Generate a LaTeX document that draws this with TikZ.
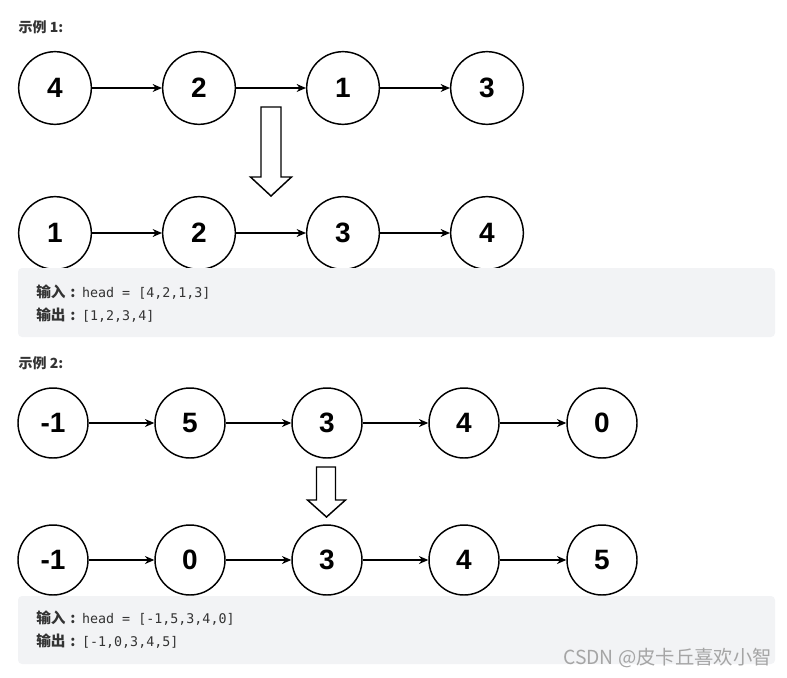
\documentclass[tikz,border=0pt]{standalone}
\usepackage{fontspec}
\setmainfont{Liberation Sans}
\setmonofont{DejaVu Sans Mono}
\newfontfamily\cjk{Noto Sans CJK SC}
\usepackage{tikz}
\usetikzlibrary{arrows.meta, positioning}

\begin{document}
\begin{tikzpicture}[x=0.75pt, y=-0.75pt]
  % Colors
  \definecolor{boxgray}{RGB}{242,243,245}
  \definecolor{textdark}{RGB}{51,51,51}
  \definecolor{markgray}{RGB}{165,165,165}

  % Styles
  \tikzset{
    listnode/.style={circle, draw, line width=1.1pt, minimum size=54.5pt, inner sep=0pt, font=\fontsize{21}{21}\selectfont\bfseries},
    link/.style={-{Stealth[length=7pt, width=6pt]}, line width=0.9pt},
    bigarrow/.style={draw, line width=1.1pt, fill=white},
    codebox/.style={fill=boxgray, rounded corners=3pt},
    title/.style={anchor=west, text=textdark, font=\cjk\fontsize{10.5}{12}\selectfont\bfseries},
    codeline/.style={anchor=west, inner sep=0pt, text=textdark, font=\fontsize{10}{12}\selectfont}
  }
  \newcommand{\codelabel}[1]{{\cjk\fontsize{11}{12}\selectfont\bfseries #1\hspace{3.5pt}:\hspace{5pt}}}

  \useasboundingbox (0,0) rectangle (787,677);

  % Example 1
  \node[title] (t1) at (14,27) {示例 1:};

  \node[listnode] (a1) at (55,88) {4};
  \node[listnode] (a2) at (199,88) {2};
  \node[listnode] (a3) at (343,88) {1};
  \node[listnode] (a4) at (487,88) {3};

  \draw[link] (a1) -- (a2);
  \draw[link] (a2) -- (a3);
  \draw[link] (a3) -- (a4);

  % Hollow arrow
  \draw[bigarrow] (261,107) -- (281,107) -- (281,177) -- (291.5,177) -- (271,196)
    -- (250.5,177) -- (261,177) -- cycle;

  \node[listnode] (b1) at (55,233) {1};
  \node[listnode] (b2) at (199,233) {2};
  \node[listnode] (b3) at (343,233) {3};
  \node[listnode] (b4) at (487,233) {4};

  \draw[link] (b1) -- (b2);
  \draw[link] (b2) -- (b3);
  \draw[link] (b3) -- (b4);

  \fill[codebox] (18,268) rectangle (775,337);
  \node[codeline] (in1) at (36,292) {\codelabel{输入}\ttfamily head = [4,2,1,3]};
  \node[codeline] (out1) at (36,315) {\codelabel{输出}\ttfamily [1,2,3,4]};

  % Example 2
  \node[title] (t2) at (14,363) {示例 2:};

  \node[listnode, minimum size=52.5pt] (c1) at (53,423) {-1};
  \node[listnode, minimum size=52.5pt] (c2) at (190,423) {5};
  \node[listnode, minimum size=52.5pt] (c3) at (327,423) {3};
  \node[listnode, minimum size=52.5pt] (c4) at (464,423) {4};
  \node[listnode, minimum size=52.5pt] (c5) at (602,423) {0};

  \draw[link] (c1) -- (c2);
  \draw[link] (c2) -- (c3);
  \draw[link] (c3) -- (c4);
  \draw[link] (c4) -- (c5);

  % Hollow arrow
  \draw[bigarrow] (316.5,467) -- (335.5,467) -- (335.5,500) -- (345.5,500) -- (326.5,517)
    -- (307.5,500) -- (316.5,500) -- cycle;

  \node[listnode, minimum size=52.5pt] (d1) at (53,560) {-1};
  \node[listnode, minimum size=52.5pt] (d2) at (190,560) {0};
  \node[listnode, minimum size=52.5pt] (d3) at (327,560) {3};
  \node[listnode, minimum size=52.5pt] (d4) at (464,560) {4};
  \node[listnode, minimum size=52.5pt] (d5) at (602,560) {5};

  \draw[link] (d1) -- (d2);
  \draw[link] (d2) -- (d3);
  \draw[link] (d3) -- (d4);
  \draw[link] (d4) -- (d5);

  \fill[codebox] (18,596) rectangle (775,664);
  \node[codeline] (in2) at (36,618) {\codelabel{输入}\ttfamily head = [-1,5,3,4,0]};
  \node[codeline] (out2) at (36,641) {\codelabel{输出}\ttfamily [-1,0,3,4,5]};

  % Watermark
  \node[anchor=east, inner sep=0pt, text=markgray, font=\cjk\fontsize{14.5}{16}\selectfont] (mark) at (772,658) {CSDN @皮卡丘喜欢小智};
\end{tikzpicture}
\end{document}
